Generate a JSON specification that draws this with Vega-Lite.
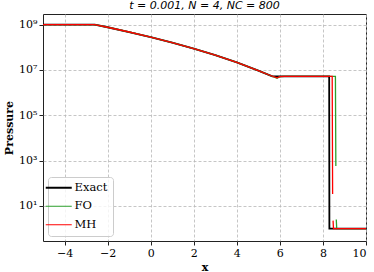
{
  "$schema": "https://vega.github.io/schema/vega-lite/v6.json",
  "autosize": {"type": "none"},
  "padding": {"left": 43, "top": 14, "right": 8, "bottom": 31},
  "width": 323,
  "height": 227,
  "title": {"text": "t = 0.001, N = 4, NC = 800", "font": "DejaVu Sans", "fontSize": 11, "fontStyle": "italic", "fontWeight": "normal", "anchor": "middle", "offset": 3, "color": "black"},
  "data": {"values": [
    {"x": -5, "p": 1e9, "s": "Exact"},
    {"x": -2.6, "p": 1e9, "s": "Exact"},
    {"x": -2, "p": 7.603e8, "s": "Exact"},
    {"x": -1, "p": 4.688e8, "s": "Exact"},
    {"x": 0, "p": 2.793e8, "s": "Exact"},
    {"x": 1, "p": 1.592e8, "s": "Exact"},
    {"x": 2, "p": 8.670e7, "s": "Exact"},
    {"x": 3, "p": 4.446e7, "s": "Exact"},
    {"x": 4, "p": 2.128e7, "s": "Exact"},
    {"x": 5, "p": 9.333e6, "s": "Exact"},
    {"x": 5.65, "p": 5.152e6, "s": "Exact"},
    {"x": 8.29, "p": 5.152e6, "s": "Exact"},
    {"x": 8.3, "p": 1, "s": "Exact"},
    {"x": 10, "p": 1, "s": "Exact"},

    {"x": -5, "p": 1e9, "s": "FO"},
    {"x": -2.6, "p": 1e9, "s": "FO"},
    {"x": -2, "p": 7.603e8, "s": "FO"},
    {"x": -1, "p": 4.688e8, "s": "FO"},
    {"x": 0, "p": 2.793e8, "s": "FO"},
    {"x": 1, "p": 1.592e8, "s": "FO"},
    {"x": 2, "p": 8.670e7, "s": "FO"},
    {"x": 3, "p": 4.446e7, "s": "FO"},
    {"x": 4, "p": 2.128e7, "s": "FO"},
    {"x": 5, "p": 9.333e6, "s": "FO"},
    {"x": 5.5, "p": 5.94e6, "s": "FO"},
    {"x": 5.87, "p": 4.266e6, "s": "FO"},
    {"x": 6.0, "p": 5.012e6, "s": "FO"},
    {"x": 6.2, "p": 5.152e6, "s": "FO"},
    {"x": 8.58, "p": 5.152e6, "s": "FO"},
    {"x": 8.6, "p": 575.4, "s": "FO"},
    {"x": 8.61, "p": null, "s": "FO"},
    {"x": 8.62, "p": 2.512, "s": "FO"},
    {"x": 8.64, "p": 1, "s": "FO"},
    {"x": 10, "p": 1, "s": "FO"},

    {"x": -5, "p": 1e9, "s": "MH"},
    {"x": -2.6, "p": 1e9, "s": "MH"},
    {"x": -2, "p": 7.603e8, "s": "MH"},
    {"x": -1, "p": 4.688e8, "s": "MH"},
    {"x": 0, "p": 2.793e8, "s": "MH"},
    {"x": 1, "p": 1.592e8, "s": "MH"},
    {"x": 2, "p": 8.670e7, "s": "MH"},
    {"x": 3, "p": 4.446e7, "s": "MH"},
    {"x": 4, "p": 2.128e7, "s": "MH"},
    {"x": 5, "p": 9.333e6, "s": "MH"},
    {"x": 5.5, "p": 5.94e6, "s": "MH"},
    {"x": 5.87, "p": 4.467e6, "s": "MH"},
    {"x": 6.0, "p": 5.012e6, "s": "MH"},
    {"x": 6.2, "p": 5.152e6, "s": "MH"},
    {"x": 8.43, "p": 5.152e6, "s": "MH"},
    {"x": 8.45, "p": 33.11, "s": "MH"},
    {"x": 8.46, "p": null, "s": "MH"},
    {"x": 8.47, "p": 2.239, "s": "MH"},
    {"x": 8.49, "p": 1, "s": "MH"},
    {"x": 10, "p": 1, "s": "MH"}
  ]},
  "mark": {"type": "line", "clip": true, "invalid": "break-paths-filter-domains"},
  "encoding": {
    "x": {"field": "x", "type": "quantitative", "scale": {"domain": [-5, 10], "nice": false, "zero": false},
      "axis": {"values": [-4, -2, 0, 2, 4, 6, 8, 10], "title": "x", "format": "d"}},
    "y": {"field": "p", "type": "quantitative", "scale": {"type": "log", "domain": [0.2825, 2.92e9], "nice": false},
      "axis": {"values": [10, 1000, 100000, 10000000, 1000000000], "title": "Pressure",
        "labelExpr": "'10' + ['⁰','¹','²','³','⁴','⁵','⁶','⁷','⁸','⁹'][round(log(datum.value)/LN10)]"}},
    "color": {"field": "s", "type": "nominal", "title": null,
      "scale": {"domain": ["Exact", "FO", "MH"], "range": ["#000000", "#2ca02c", "#ff0000"]},
      "legend": {"orient": "none", "legendX": 5, "legendY": 163, "symbolType": "M-2,0H2", "symbolSize": 169,
        "labelOffset": 10, "padding": 5, "rowPadding": 5.5, "labelFont": "DejaVu Serif", "labelFontSize": 11.5, "labelColor": "black",
        "fillColor": "rgba(255,255,255,0.8)", "strokeColor": "#cccccc", "cornerRadius": 3,
        "encode": {"symbols": {"update": {"strokeWidth": {"signal": "datum.value === 'Exact' ? 2 : 1"}}}}}},
    "strokeWidth": {"condition": {"test": "datum.s === 'Exact'", "value": 1.8}, "value": 1.3}
  },
  "config": {
    "view": {"stroke": "#222222", "strokeWidth": 1},
    "axis": {"domain": false, "tickColor": "#222222", "tickSize": 4, "labelFont": "DejaVu Serif", "labelFontSize": 11,
      "labelColor": "black", "labelPadding": 2, "grid": true, "gridColor": "#b8b8b8", "gridDash": [3, 2], "gridWidth": 0.8,
      "titleFont": "DejaVu Serif", "titleFontSize": 11, "titleFontWeight": "bold", "titleColor": "black", "titlePadding": 3},
    "axisY": {"titlePadding": 4}
  }
}
